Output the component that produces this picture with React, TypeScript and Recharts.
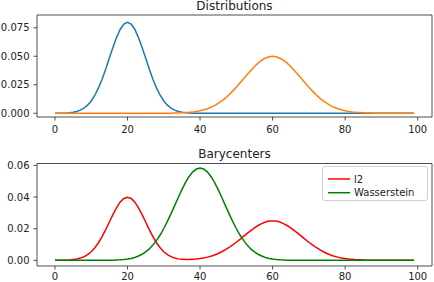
import { LineChart, Line, XAxis, YAxis, ReferenceArea } from 'recharts';

// distributions (bins 0..99)
const distA = [
  0.0000, 0.0001, 0.0001, 0.0002, 0.0005, 0.0009, 0.0016, 0.0027, 0.0045, 0.0071,
  0.0108, 0.0158, 0.0222, 0.0299, 0.0388, 0.0484, 0.0579, 0.0666, 0.0737, 0.0782,
  0.0798, 0.0782, 0.0737, 0.0666, 0.0579, 0.0484, 0.0388, 0.0299, 0.0222, 0.0158,
  0.0108, 0.0071, 0.0045, 0.0027, 0.0016, 0.0009, 0.0005, 0.0002, 0.0001, 0.0001,
  0, 0, 0, 0, 0, 0, 0, 0, 0, 0,
  0, 0, 0, 0, 0, 0, 0, 0, 0, 0,
  0, 0, 0, 0, 0, 0, 0, 0, 0, 0,
  0, 0, 0, 0, 0, 0, 0, 0, 0, 0,
  0, 0, 0, 0, 0, 0, 0, 0, 0, 0,
  0, 0, 0, 0, 0, 0, 0, 0, 0, 0,
];

const distB = [
  0, 0, 0, 0, 0, 0, 0, 0, 0, 0,
  0, 0, 0, 0, 0, 0, 0, 0, 0, 0,
  0, 0, 0, 0, 0, 0, 0, 0, 0, 0,
  0.0000, 0.0001, 0.0001, 0.0002, 0.0003, 0.0004, 0.0006, 0.0008, 0.0011, 0.0016,
  0.0022, 0.0030, 0.0040, 0.0052, 0.0067, 0.0086, 0.0108, 0.0133, 0.0162, 0.0194,
  0.0228, 0.0265, 0.0302, 0.0340, 0.0376, 0.0410, 0.0440, 0.0465, 0.0483, 0.0495,
  0.0499, 0.0495, 0.0483, 0.0465, 0.0440, 0.0410, 0.0376, 0.0340, 0.0302, 0.0265,
  0.0228, 0.0194, 0.0162, 0.0133, 0.0108, 0.0086, 0.0067, 0.0052, 0.0040, 0.0030,
  0.0022, 0.0016, 0.0011, 0.0008, 0.0006, 0.0004, 0.0003, 0.0002, 0.0001, 0.0001,
  0, 0, 0, 0, 0, 0, 0, 0, 0, 0,
];

// barycenters
const baryL2 = [
  0.0000, 0.0000, 0.0001, 0.0001, 0.0002, 0.0005, 0.0008, 0.0014, 0.0022, 0.0036,
  0.0054, 0.0079, 0.0111, 0.0150, 0.0194, 0.0242, 0.0290, 0.0333, 0.0369, 0.0391,
  0.0399, 0.0391, 0.0369, 0.0333, 0.0290, 0.0242, 0.0194, 0.0150, 0.0111, 0.0079,
  0.0054, 0.0036, 0.0023, 0.0015, 0.0009, 0.0007, 0.0005, 0.0005, 0.0007, 0.0008,
  0.0011, 0.0015, 0.0020, 0.0026, 0.0034, 0.0043, 0.0054, 0.0067, 0.0081, 0.0097,
  0.0114, 0.0132, 0.0151, 0.0170, 0.0188, 0.0205, 0.0220, 0.0232, 0.0242, 0.0248,
  0.0249, 0.0248, 0.0242, 0.0232, 0.0220, 0.0205, 0.0188, 0.0170, 0.0151, 0.0132,
  0.0114, 0.0097, 0.0081, 0.0067, 0.0054, 0.0043, 0.0034, 0.0026, 0.0020, 0.0015,
  0.0011, 0.0008, 0.0006, 0.0004, 0.0003, 0.0002, 0.0001, 0.0001, 0.0001, 0.0000,
  0, 0, 0, 0, 0, 0, 0, 0, 0, 0,
];

const baryWass = [
  0, 0, 0, 0, 0, 0, 0, 0, 0, 0,
  0, 0, 0, 0, 0.0000, 0.0001, 0.0001, 0.0002, 0.0003, 0.0005,
  0.0008, 0.0012, 0.0018, 0.0027, 0.0038, 0.0053, 0.0072, 0.0096, 0.0126, 0.0160,
  0.0201, 0.0246, 0.0295, 0.0346, 0.0397, 0.0447, 0.0492, 0.0530, 0.0559, 0.0577,
  0.0583, 0.0577, 0.0559, 0.0530, 0.0492, 0.0447, 0.0397, 0.0346, 0.0295, 0.0246,
  0.0201, 0.0160, 0.0126, 0.0096, 0.0072, 0.0053, 0.0038, 0.0027, 0.0018, 0.0012,
  0.0008, 0.0005, 0.0003, 0.0002, 0.0001, 0.0001, 0, 0, 0, 0,
  0, 0, 0, 0, 0, 0, 0, 0, 0, 0,
  0, 0, 0, 0, 0, 0, 0, 0, 0, 0,
  0, 0, 0, 0, 0, 0, 0, 0, 0, 0,
];

const xTicks = [0, 20, 40, 60, 80, 100];
const topTicks = [0, 0.025, 0.05, 0.075];
const bottomTicks = [0, 0.02, 0.04, 0.06];
const legendItems = [
  { name: 'l2', color: '#ff0000' },
  { name: 'Wasserstein', color: '#008000' },
];

const FONT = '"DejaVu Sans", sans-serif';
const X_DOMAIN: [number, number] = [-4.95, 103.95];
const TOP_DOMAIN: [number, number] = [-0.0033, 0.0862];
const BOTTOM_DOMAIN: [number, number] = [-0.0036, 0.0612];

const topData = distA.map((a, i) => ({ x: i, a, b: distB[i] }));
const bottomData = baryL2.map((l2, i) => ({ x: i, l2, w: baryWass[i] }));

const tickStyle = { fontSize: 10, fill: '#222', fontFamily: FONT };

function BaryLegend() {
  return (
    <svg width={106} height={35} style={{ position: 'absolute', left: 322, top: 166 }}>
      <rect x={0.5} y={0.5} width={105} height={34} rx={2.5} fill="rgba(255,255,255,0.8)" stroke="#d0d0d0" strokeWidth={1} />
      {legendItems.map((it, i) => (
        <g key={it.name}>
          <line x1={6} x2={28} y1={13 + i * 13.7} y2={13 + i * 13.7} stroke={it.color} strokeWidth={1.5} />
          <text x={32} y={16.6 + i * 13.7} fontSize={10} fontFamily={FONT} fill="#222">
            {it.name}
          </text>
        </g>
      ))}
    </svg>
  );
}

export default function App() {
  return (
    <div style={{ position: 'absolute', left: 0, top: 0, width: 434, height: 282, background: '#fff', fontFamily: FONT }}>
      <div style={{ position: 'absolute', left: 37, width: 395, top: 0, textAlign: 'center', fontSize: 12, lineHeight: '12px', color: '#222' }}>
        Distributions
      </div>
      <div style={{ position: 'absolute', left: 37, width: 395, top: 148, textAlign: 'center', fontSize: 12, lineHeight: '12px', color: '#222' }}>
        Barycenters
      </div>

      <div style={{ position: 'absolute', left: 0, top: 0 }}>
        <LineChart width={434} height={141} data={topData} margin={{ top: 15, right: 2, left: 0, bottom: 0 }}>
          <XAxis
            dataKey="x"
            type="number"
            domain={X_DOMAIN}
            ticks={xTicks}
            allowDataOverflow
            axisLine={false}
            tickSize={3.5}
            tickMargin={5}
            tickLine={{ stroke: '#222', strokeWidth: 0.8 }}
            tick={tickStyle}
            height={24}
          />
          <YAxis
            type="number"
            domain={TOP_DOMAIN}
            ticks={topTicks}
            allowDataOverflow
            axisLine={false}
            tickSize={3.5}
            tickMargin={4}
            tickLine={{ stroke: '#222', strokeWidth: 0.8 }}
            tick={tickStyle}
            tickFormatter={(v: number) => v.toFixed(3)}
            width={37}
          />
          <Line type="linear" dataKey="a" stroke="#1f77b4" strokeWidth={1.5} dot={false} isAnimationActive={false} />
          <Line type="linear" dataKey="b" stroke="#ff7f0e" strokeWidth={1.5} dot={false} isAnimationActive={false} />
          <ReferenceArea
            x1={X_DOMAIN[0]}
            x2={X_DOMAIN[1]}
            y1={TOP_DOMAIN[0]}
            y2={TOP_DOMAIN[1]}
            fill="none"
            stroke="#222"
            strokeWidth={0.8}
          />
        </LineChart>
      </div>

      <div style={{ position: 'absolute', left: 0, top: 141 }}>
        <LineChart width={434} height={141} data={bottomData} margin={{ top: 22.5, right: 2, left: 0, bottom: 0 }}>
          <XAxis
            dataKey="x"
            type="number"
            domain={X_DOMAIN}
            ticks={xTicks}
            allowDataOverflow
            axisLine={false}
            tickSize={3.5}
            tickMargin={3}
            tickLine={{ stroke: '#222', strokeWidth: 0.8 }}
            tick={tickStyle}
            height={16}
          />
          <YAxis
            type="number"
            domain={BOTTOM_DOMAIN}
            ticks={bottomTicks}
            allowDataOverflow
            axisLine={false}
            tickSize={3.5}
            tickMargin={4}
            tickLine={{ stroke: '#222', strokeWidth: 0.8 }}
            tick={tickStyle}
            tickFormatter={(v: number) => v.toFixed(2)}
            width={37}
          />
          <Line type="linear" dataKey="l2" name="l2" stroke="#ff0000" strokeWidth={1.5} dot={false} isAnimationActive={false} />
          <Line type="linear" dataKey="w" name="Wasserstein" stroke="#008000" strokeWidth={1.5} dot={false} isAnimationActive={false} />
          <ReferenceArea
            x1={X_DOMAIN[0]}
            x2={X_DOMAIN[1]}
            y1={BOTTOM_DOMAIN[0]}
            y2={BOTTOM_DOMAIN[1]}
            fill="none"
            stroke="#222"
            strokeWidth={0.8}
          />
        </LineChart>
      </div>

      <BaryLegend />
    </div>
  );
}
